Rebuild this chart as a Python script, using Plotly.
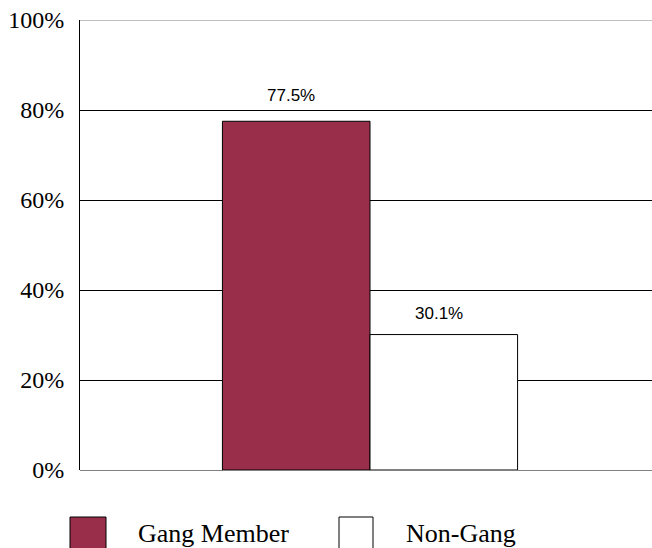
import plotly.graph_objects as go

groups = ["Gang Member", "Non-Gang"]
values = [0.775, 0.301]
colors = ["#992E4B", "#FFFFFF"]

# styling
bar_width = 0.258
offsets = [-bar_width, 0]
label_yshift = [26, 21]
y_ticks = [0, 0.2, 0.4, 0.6, 0.8, 1.0]
y_tick_labels = ["0%", "20%", "40%", "60%", "80%", "100%"]

SERIF = "Liberation Serif, Times New Roman, serif"
SANS = "Liberation Sans, Arial, sans-serif"

fig = go.Figure()
for g, v, c, off, ys in zip(groups, values, colors, offsets, label_yshift):
    fig.add_trace(go.Bar(
        x=[0], y=[v], name=g, width=[bar_width], offset=[off],
        marker=dict(color=c, line=dict(color="#000000", width=1)),
        showlegend=False,
    ))
    fig.add_annotation(
        x=off + bar_width / 2, y=v, xref="x", yref="y",
        text=f"{v*100:.1f}%", showarrow=False, yshift=ys, xshift=-5,
        font=dict(family=SANS, size=17, color="#000000"),
    )

# top gridline at the upper edge of the axis
fig.add_shape(type="line", xref="paper", yref="y", x0=0, x1=1,
              y0=y_ticks[-1], y1=y_ticks[-1],
              line=dict(color="#808080", width=1), layer="below")

# custom legend (large squares), positions in page pixels -> paper coords
W, H = 572, 450
leg_sq = [(70, 106), (339, 373)]
leg_txt = [136, 404]
for (x0, x1), tx, g, c in zip(leg_sq, leg_txt, groups, colors):
    fig.add_shape(type="rect", xref="paper", yref="paper",
                  x0=(x0 - 80) / W, x1=(x1 - 80) / W,
                  y0=(470 - 517) / H, y1=(470 - 565) / H,
                  fillcolor=c, line=dict(color="#000000", width=1), layer="above")
    fig.add_annotation(x=(tx - 80) / W, y=(470 - 533) / H, xref="paper", yref="paper",
                       text=g, showarrow=False, xanchor="left", yanchor="middle",
                       font=dict(family=SERIF, size=26, color="#000000"))

fig.update_layout(
    width=652, height=548,
    margin=dict(l=80, r=0, t=20, b=78),
    paper_bgcolor="white", plot_bgcolor="white",
    barmode="overlay",
    xaxis=dict(range=[-0.507, 0.493], showticklabels=False, showgrid=False,
               zeroline=False, showline=False, fixedrange=True),
    yaxis=dict(range=[0, 1], tickvals=y_ticks, ticktext=y_tick_labels,
               showgrid=True, gridcolor="#000000", gridwidth=1,
               zeroline=True, zerolinecolor="#808080", zerolinewidth=1,
               showline=True, linecolor="#000000", linewidth=1,
               ticks="", ticklabelstandoff=10, fixedrange=True,
               tickfont=dict(family=SERIF, size=24, color="#000000")),
)

fig.write_html(
    "out.html",
    config={"displayModeBar": False},
    post_script="document.body.style.margin='0';document.body.style.overflow='hidden';",
)
